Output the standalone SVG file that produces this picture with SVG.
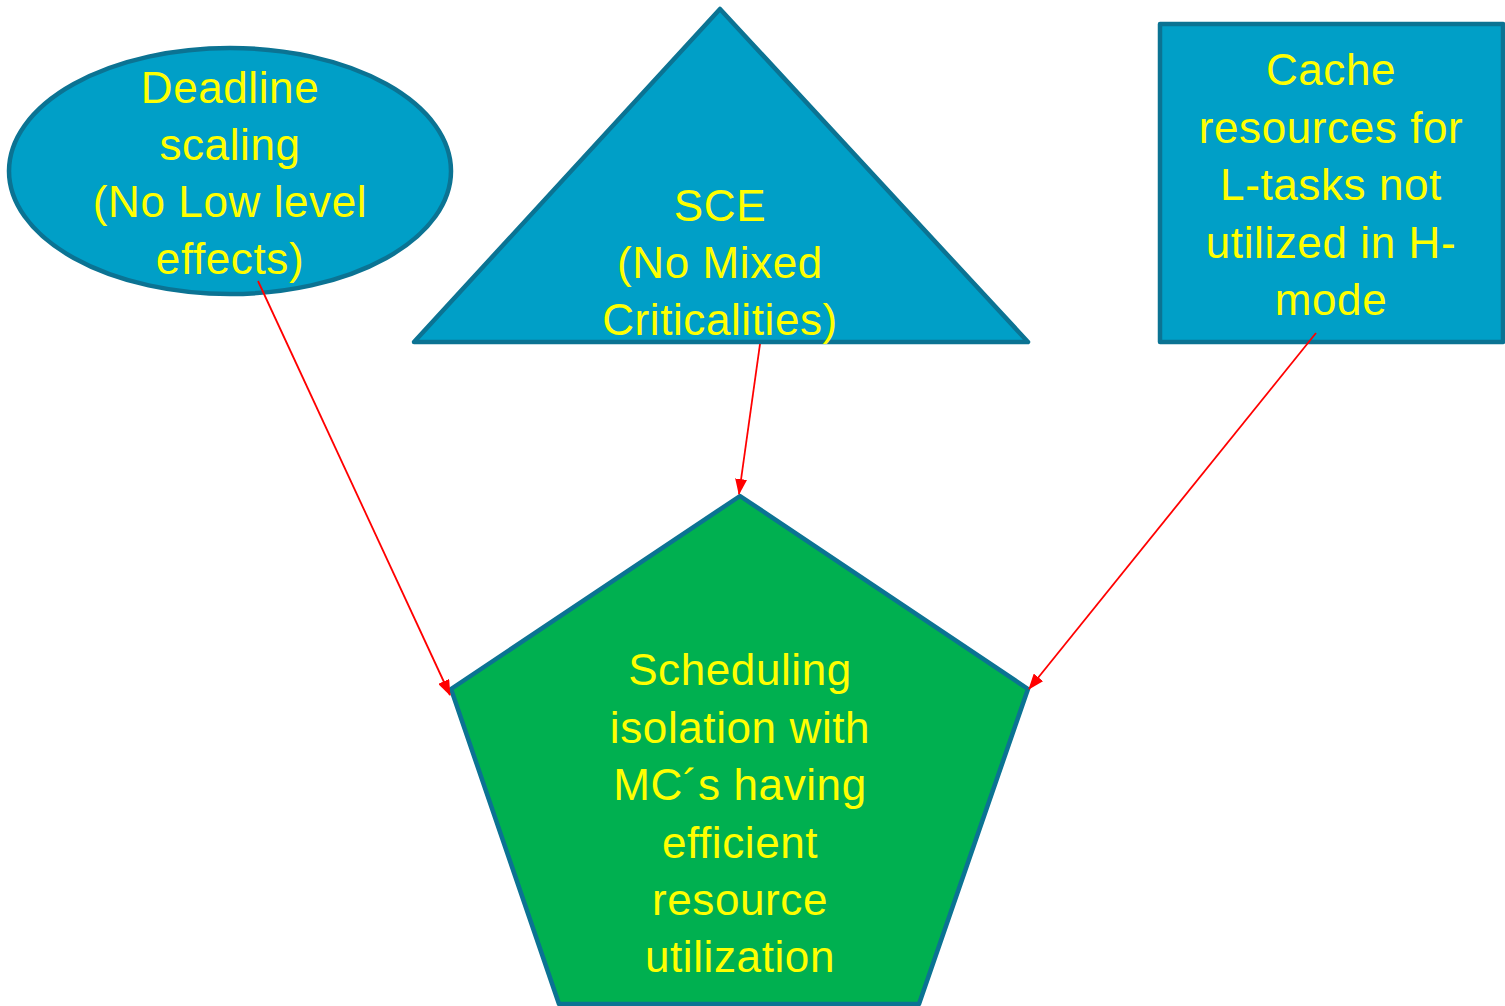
<svg xmlns="http://www.w3.org/2000/svg" width="1505" height="1006" viewBox="0 0 1505 1006">
<style>
.shape{fill:#009FC7;stroke:#0B7393;stroke-width:4.5;stroke-linejoin:round}
.green{fill:#00B050;stroke:#0B7393;stroke-width:4.5;stroke-linejoin:round}
.lbl{font-family:"Liberation Sans",Arial,sans-serif;font-size:44px;letter-spacing:0.6px;fill:#FFFF00;text-anchor:middle}
.conn{stroke:#FF0000;stroke-width:1.8;fill:none}
</style>
<defs>
<marker id="ah" markerUnits="userSpaceOnUse" markerWidth="16" markerHeight="12" refX="15" refY="6" orient="auto">
<path d="M0,0 L16,6 L0,12 Z" fill="#FF0000"/>
</marker>
</defs>
<rect width="1505" height="1006" fill="#FFFFFF"/>
<g id="node-deadline">
<ellipse class="shape" cx="230" cy="171" rx="221" ry="123"/>
<text class="lbl" x="230" y="103">Deadline</text>
<text class="lbl" x="230" y="160">scaling</text>
<text class="lbl" x="230" y="217">(No Low level</text>
<text class="lbl" x="230" y="274">effects)</text>
</g>
<g id="node-sce">
<polygon class="shape" points="720,9 1028,342 414,342"/>
<text class="lbl" x="720" y="221">SCE</text>
<text class="lbl" x="720" y="278">(No Mixed</text>
<text class="lbl" x="720" y="335">Criticalities)</text>
</g>
<g id="node-cache">
<rect class="shape" x="1160" y="24" width="343" height="318"/>
<text class="lbl" x="1331" y="85">Cache</text>
<text class="lbl" x="1331" y="143">resources for</text>
<text class="lbl" x="1331" y="200">L-tasks not</text>
<text class="lbl" x="1331" y="258">utilized in H-</text>
<text class="lbl" x="1331" y="315">mode</text>
</g>
<g id="node-scheduling">
<polygon class="green" points="740,496 1028,689 919,1004 559,1004 451,689"/>
<text class="lbl" x="740" y="685">Scheduling</text>
<text class="lbl" x="740" y="743">isolation with</text>
<text class="lbl" x="740" y="800">MC´s having</text>
<text class="lbl" x="740" y="858">efficient</text>
<text class="lbl" x="740" y="915">resource</text>
<text class="lbl" x="740" y="972">utilization</text>
</g>
<g id="connectors">
<line class="conn" x1="258" y1="281" x2="450" y2="695" marker-end="url(#ah)"/>
<line class="conn" x1="760" y1="344" x2="739" y2="494" marker-end="url(#ah)"/>
<line class="conn" x1="1316" y1="333" x2="1029" y2="689" marker-end="url(#ah)"/>
</g>
</svg>
